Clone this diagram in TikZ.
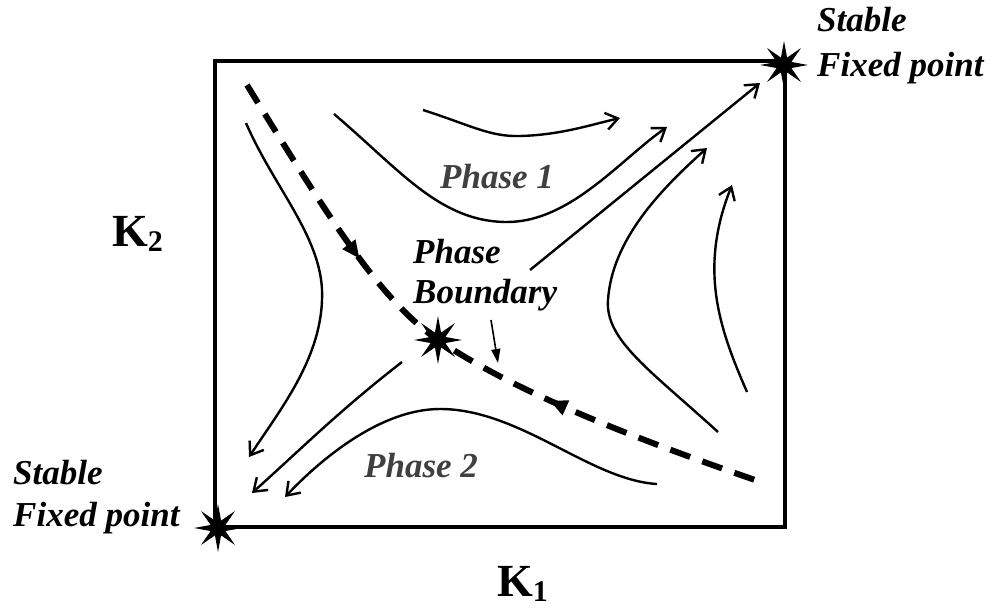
\documentclass[tikz,border=0pt]{standalone}
\usepackage{fontspec}
\setmainfont{Liberation Serif}[BoldFont={Liberation Serif Bold},BoldItalicFont={Liberation Serif Bold Italic},ItalicFont={Liberation Serif Italic}]
\usetikzlibrary{arrows.meta,shapes.geometric,decorations.markings}
\newcommand{\axsub}[1]{\raisebox{-5pt}{\fontsize{30}{32}\selectfont #1}}
\begin{document}
\begin{tikzpicture}[x=1pt,y=-1pt,
  flow/.style={line width=2.4pt,-{Straight Barb[length=12pt,width=17pt,line width=2.4pt]}},
  fixpt/.style={star,star points=8,star point ratio=3,fill=black,draw=none,inner sep=0pt,minimum size=48pt},
  lbl/.style={font=\fontsize{35}{40}\selectfont\bfseries\itshape,inner sep=0pt,anchor=base west},
  phaselbl/.style={lbl,text=black!75},
  axislbl/.style={font=\fontsize{46}{50}\selectfont\bfseries,inner sep=0pt,anchor=base west},
  boundary/.style={line width=6pt,dash pattern=on 21pt off 13pt,
    postaction={decorate,decoration={markings,
      mark=at position 0.31 with {\arrow{Triangle[length=18pt,width=15pt]}},
      mark=at position 0.67 with {\arrowreversed{Triangle[length=18pt,width=15pt]}}}}}]
\useasboundingbox (0,0) rectangle (992,610);
\fill[white] (0,0) rectangle (992,610);
% frame
\draw[line width=3.5pt] (215,61) rectangle (785,527);
% fixed points
\node[fixpt] (tr) at (784,65) {};
\node[fixpt] (bl) at (218,528) {};
\node[fixpt] (ctr) at (438,340) {};
% labels
\node[lbl] (trA) at (817,32) {Stable};
\node[lbl] (trB) at (817,76) {Fixed point};
\node[lbl] (blA) at (13,484) {Stable};
\node[lbl] (blB) at (13,526) {Fixed point};
\node[phaselbl] (p1) at (440,188) {Phase 1};
\node[phaselbl] (p2) at (364,477) {Phase 2};
\node[lbl] (pbA) at (413,263) {Phase};
\node[lbl] (pbB) at (413,303) {Boundary};
\node[axislbl] (k2) at (112,246) {K\axsub{2}};
\node[axislbl] (k1) at (497,596) {K\axsub{1}};
% coordinates
\coordinate (a0) at (246,123); \coordinate (a1) at (249,457);
\coordinate (b0) at (402,362); \coordinate (b1) at (252,493);
\coordinate (c0) at (657,484); \coordinate (c1) at (285,497);
\coordinate (d0) at (334,114); \coordinate (d1) at (667,127);
\coordinate (e0) at (423,110); \coordinate (e1) at (620,118);
\coordinate (f0) at (530,270); \coordinate (f1) at (760,83);
\coordinate (g0) at (718,432); \coordinate (g1) at (707,148);
\coordinate (h0) at (747,392); \coordinate (h1) at (732,185);
\coordinate (i0) at (491,320); \coordinate (i1) at (498,363);
\coordinate (q0) at (247,85); \coordinate (q1) at (755,480);
% phase boundary
\draw[boundary] (q0) .. controls (330,220) and (380,300) .. (ctr.center)
  .. controls (520,395) and (640,440) .. (q1);
% flow lines
\draw[flow] (a0) .. controls (275,190) and (325,240) .. (322,300)
  .. controls (320,360) and (280,410) .. (a1);
\draw[flow] (b0) .. controls (340,410) and (300,450) .. (b1);
\draw[flow] (c0) .. controls (590,480) and (520,409) .. (440,409)
  .. controls (380,409) and (320,460) .. (c1);
\draw[flow] (d0) .. controls (400,170) and (440,222) .. (507,222)
  .. controls (570,222) and (620,160) .. (d1);
\draw[flow] (e0) .. controls (470,125) and (490,137) .. (520,136)
  .. controls (560,135) and (590,125) .. (e1);
\draw[flow] (f0) -- (f1);
\draw[flow] (g0) .. controls (650,370) and (605,340) .. (608,300)
  .. controls (612,240) and (660,190) .. (g1);
\draw[flow] (h0) .. controls (720,330) and (698,270) .. (h1);
\draw[line width=1.6pt,-{Triangle[length=14pt,width=9pt]}] (i0) -- (i1);
\end{tikzpicture}
\end{document}
